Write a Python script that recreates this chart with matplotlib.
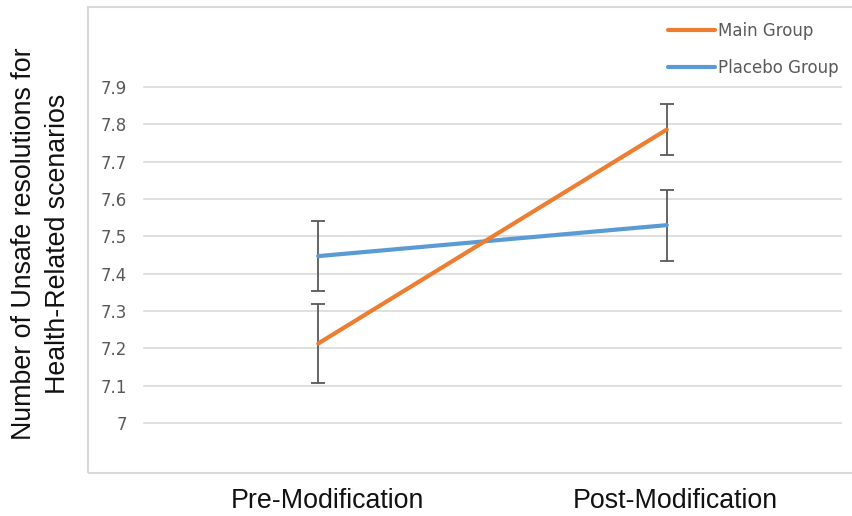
import numpy as np
import matplotlib
matplotlib.use("Agg")
import matplotlib.pyplot as plt
import matplotlib.transforms as mtransforms
from matplotlib.patches import Rectangle

# data
phases = ["Pre-Modification", "Post-Modification"]
main_mean = [7.213, 7.786]
main_err = [0.106, 0.069]
placebo_mean = [7.447, 7.530]
placebo_err = [0.093, 0.095]
yticks = [7.0, 7.1, 7.2, 7.3, 7.4, 7.5, 7.6, 7.7, 7.8, 7.9]
ytick_labels = ["7", "7.1", "7.2", "7.3", "7.4", "7.5", "7.6", "7.7", "7.8", "7.9"]

W, H = 853, 516
fig = plt.figure(figsize=(W / 100, H / 100), dpi=100)
ax = fig.add_axes([144 / W, 1 - 423 / H, (841 - 144) / W, (423 - 87) / H])

orange = "#ED7D31"
blue = "#5B9BD5"
grey = "#595959"

x = np.arange(len(phases))
ax.errorbar(x, placebo_mean, yerr=placebo_err, color=blue, lw=3,
            ecolor=grey, elinewidth=1.3, capsize=5, capthick=1.3,
            label="Placebo Group", zorder=3, solid_capstyle="round")
ax.errorbar(x, main_mean, yerr=main_err, color=orange, lw=3,
            ecolor=grey, elinewidth=1.3, capsize=5, capthick=1.3,
            label="Main Group", zorder=4, solid_capstyle="round")

ax.set_xlim(-0.5, 1.5)
ax.set_ylim(7.0, 7.9)
ax.set_yticks(yticks)
ax.set_yticklabels(ytick_labels, fontsize=12, color=grey, family="DejaVu Sans")
ax.set_xticks(x)
ax.set_xticklabels(phases, fontsize=19.3, family="Liberation Sans", color="#111111")
ax.tick_params(axis="y", length=0, pad=12)
ax.tick_params(axis="x", length=0, pad=47)
# labels sit a little right of the category centre, as in the original
shift = mtransforms.ScaledTranslation(9 / 100, 0, fig.dpi_scale_trans)
for lbl in ax.get_xticklabels():
    lbl.set_transform(lbl.get_transform() + shift)
for s in ax.spines.values():
    s.set_visible(False)
ax.grid(axis="y", color="#d9d9d9", lw=1.2)
ax.set_axisbelow(True)
for ln in ax.get_ygridlines():
    ln.set_clip_on(False)

fig.text(41 / W, 1 - 244 / H,
         "Number of Unsafe resolutions for\nHealth-Related scenarios",
         rotation=90, ha="center", va="center", multialignment="center",
         fontsize=19.3, family="Liberation Sans", color="#111111",
         linespacing=1.38)

# chart frame
fig.patches.append(Rectangle((88 / W, 1 - 473 / H), (W + 5 - 88) / W, (473 - 7) / H,
                             transform=fig.transFigure, fill=False,
                             edgecolor="#d9d9d9", lw=1.5))

handles, labels = ax.get_legend_handles_labels()
order = [1, 0]
leg = fig.legend([handles[i][0] for i in order], [labels[i] for i in order],
                 loc="upper left", bbox_to_anchor=(668 / W, 1 - 22 / H),
                 frameon=False, borderpad=0, borderaxespad=0,
                 handlelength=2.85, handletextpad=0.15, labelspacing=1.15,
                 prop={"family": "DejaVu Sans", "size": 12})
for t in leg.get_texts():
    t.set_color(grey)

fig.savefig("out.png", dpi=100)
